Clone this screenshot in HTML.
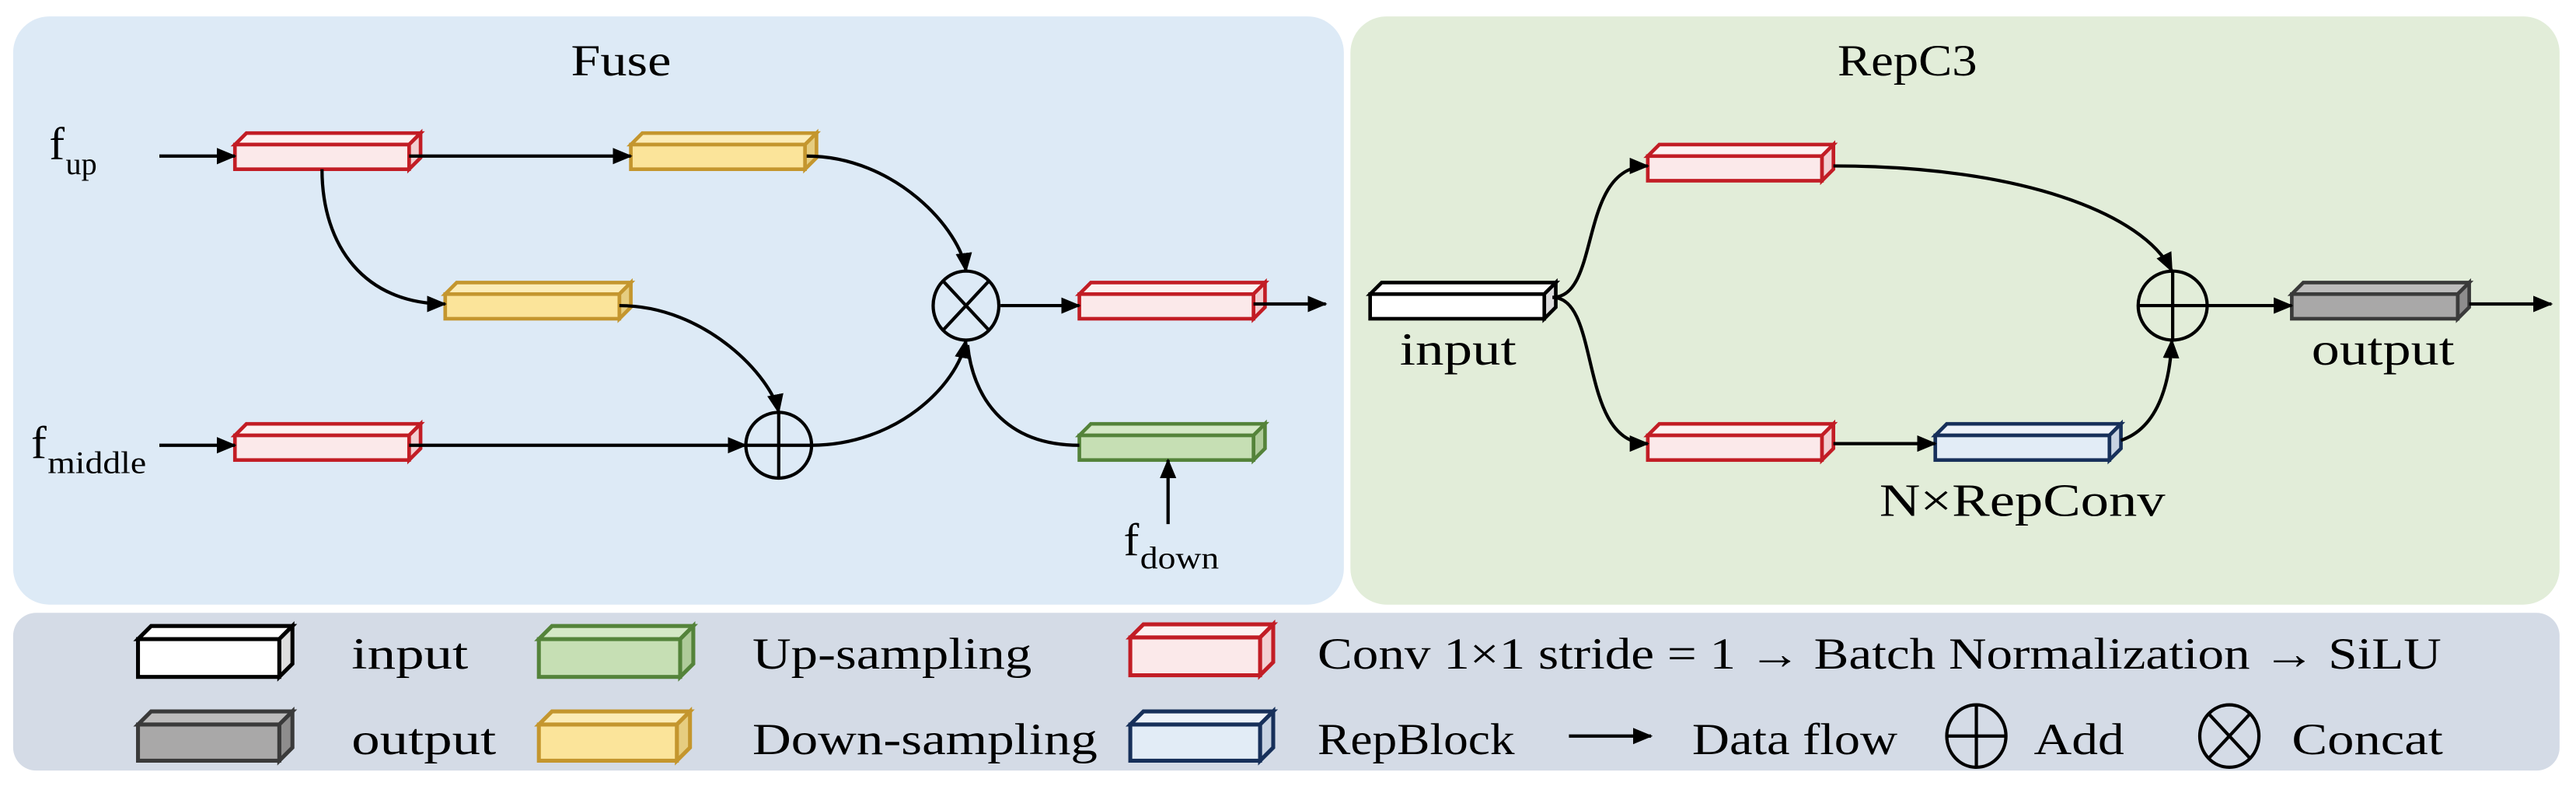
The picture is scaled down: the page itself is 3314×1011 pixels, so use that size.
<!DOCTYPE html>
<html><head><meta charset="utf-8"><style>
html,body{margin:0;padding:0;background:#fff;}
svg{display:block;}
text{font-family:"Liberation Serif",serif;fill:#000;}
</style></head><body>
<svg width="3314" height="1011" viewBox="0 0 1568 478.4" preserveAspectRatio="none" xmlns="http://www.w3.org/2000/svg">
<defs>
<marker id="ah" markerWidth="12" markerHeight="10" refX="11" refY="5" orient="auto" markerUnits="userSpaceOnUse">
<path d="M0,0 L12,5 L0,10 Z" fill="#000"/></marker>
</defs>
<rect x="8" y="10" width="810" height="358" rx="22" fill="#ddeaf6"/>
<rect x="822" y="10" width="736" height="358" rx="22" fill="#e2edd9"/>
<rect x="8" y="373" width="1550" height="96" rx="14" fill="#d4dbe6"/>

<text x="378" y="46" font-size="27" text-anchor="middle" textLength="61" lengthAdjust="spacingAndGlyphs">Fuse</text>
<text x="1161" y="46" font-size="27" text-anchor="middle" textLength="85" lengthAdjust="spacingAndGlyphs">RepC3</text>

<g stroke-width="2.2" stroke-linejoin="miter">
<g fill="#fbe9ea" stroke="#c21d25">
<g transform="translate(143,81)"><polygon points="0,7 7,0 113,0 106,7" fill="#fdf1f1"/><polygon points="106,7 113,0 113,15 106,22" fill="#f3cfd1"/><rect x="0" y="7" width="106" height="15"/></g>
<g transform="translate(143,258)"><polygon points="0,7 7,0 113,0 106,7" fill="#fdf1f1"/><polygon points="106,7 113,0 113,15 106,22" fill="#f3cfd1"/><rect x="0" y="7" width="106" height="15"/></g>
<g transform="translate(657,172)"><polygon points="0,7 7,0 113,0 106,7" fill="#fdf1f1"/><polygon points="106,7 113,0 113,15 106,22" fill="#f3cfd1"/><rect x="0" y="7" width="106" height="15"/></g>
<g transform="translate(1003,88)"><polygon points="0,7 7,0 113,0 106,7" fill="#fdf1f1"/><polygon points="106,7 113,0 113,15 106,22" fill="#f3cfd1"/><rect x="0" y="7" width="106" height="15"/></g>
<g transform="translate(1003,258)"><polygon points="0,7 7,0 113,0 106,7" fill="#fdf1f1"/><polygon points="106,7 113,0 113,15 106,22" fill="#f3cfd1"/><rect x="0" y="7" width="106" height="15"/></g>
</g>
<g fill="#fbe49a" stroke="#c4962e">
<g transform="translate(384,81)"><polygon points="0,7 7,0 113,0 106,7" fill="#fcecb6"/><polygon points="106,7 113,0 113,15 106,22" fill="#e6cd80"/><rect x="0" y="7" width="106" height="15"/></g>
<g transform="translate(271,172)"><polygon points="0,7 7,0 113,0 106,7" fill="#fcecb6"/><polygon points="106,7 113,0 113,15 106,22" fill="#e6cd80"/><rect x="0" y="7" width="106" height="15"/></g>
</g>
<g fill="#c6dfb4" stroke="#54833a" transform="translate(657,258)"><polygon points="0,7 7,0 113,0 106,7" fill="#d4e8c6"/><polygon points="106,7 113,0 113,15 106,22" fill="#afcb9a"/><rect x="0" y="7" width="106" height="15"/></g>
<g fill="#ffffff" stroke="#000" transform="translate(834,172)"><polygon points="0,7 7,0 113,0 106,7"/><polygon points="106,7 113,0 113,15 106,22" fill="#ddd"/><rect x="0" y="7" width="106" height="15"/></g>
<g fill="#e2ecf6" stroke="#17305a" transform="translate(1178,258)"><polygon points="0,7 7,0 113,0 106,7" fill="#edf2f9"/><polygon points="106,7 113,0 113,15 106,22" fill="#c8d3e2"/><rect x="0" y="7" width="106" height="15"/></g>
<g fill="#a9a8a8" stroke="#3a3a3a" transform="translate(1395,172)"><polygon points="0,7 7,0 108,0 101,7" fill="#bdbcbc"/><polygon points="101,7 108,0 108,15 101,22" fill="#8e8d8d"/><rect x="0" y="7" width="101" height="15"/></g>
</g>

<g fill="none" stroke="#000" stroke-width="2">
<path d="M97 95 L143 95" marker-end="url(#ah)"/>
<path d="M249 95 L384 95" marker-end="url(#ah)"/>
<path d="M196 103 C 196 150, 222 185, 271 185" marker-end="url(#ah)"/>
<path d="M491 95 C 545 95, 585 140, 588 165" marker-end="url(#ah)"/>
<path d="M377 186 C 430 186, 470 230, 474 251" marker-end="url(#ah)"/>
<path d="M97 271 L143 271" marker-end="url(#ah)"/>
<path d="M249 271 L454 271" marker-end="url(#ah)"/>
<path d="M494 271 C 545 271, 583 235, 588 207" marker-end="url(#ah)"/>
<path d="M657 271 C 610 271, 592 240, 589 210"/>
<path d="M609 186 L657 186" marker-end="url(#ah)"/>
<path d="M763 185 L807 185" marker-end="url(#ah)"/>
<path d="M711 319 L711 280" marker-end="url(#ah)"/>
<path d="M945 181 C 975 181, 960 101, 1003 101" marker-end="url(#ah)"/>
<path d="M945 181 C 975 181, 960 270, 1003 270" marker-end="url(#ah)"/>
<path d="M1116 101 C 1230 101, 1305 130, 1322 165" marker-end="url(#ah)"/>
<path d="M1116 270 L1178 270" marker-end="url(#ah)"/>
<path d="M1291 268 C 1315 260, 1321 230, 1322 207" marker-end="url(#ah)"/>
<path d="M1343 186 L1395 186" marker-end="url(#ah)"/>
<path d="M1503 185 L1553 185" marker-end="url(#ah)"/>
</g>
<g fill="none" stroke="#000" stroke-width="2">
<ellipse cx="588" cy="186" rx="20" ry="21"/><path d="M574 171 L602 201 M602 171 L574 201"/>
<ellipse cx="474" cy="271" rx="20" ry="20"/><path d="M454 271 L494 271 M474 251 L474 291"/>
<ellipse cx="1322.5" cy="186" rx="21" ry="21"/><path d="M1301.5 186 L1343.5 186 M1322.5 165 L1322.5 207"/>
</g>

<text x="30" y="97" font-size="28">f</text><text x="40" y="106" font-size="19">up</text>
<text x="19" y="279" font-size="28">f</text><text x="29" y="288" font-size="19" textLength="60" lengthAdjust="spacingAndGlyphs">middle</text>
<text x="684" y="338" font-size="28">f</text><text x="694" y="346" font-size="19" textLength="48" lengthAdjust="spacingAndGlyphs">down</text>
<text x="852" y="222" font-size="28" textLength="71" lengthAdjust="spacingAndGlyphs">input</text>
<text x="1407" y="222" font-size="28" textLength="87" lengthAdjust="spacingAndGlyphs">output</text>
<text x="1144" y="314" font-size="28" textLength="174" lengthAdjust="spacingAndGlyphs">N×RepConv</text>

<g stroke-width="2.4">
<g transform="translate(84,381)" fill="#fff" stroke="#000"><polygon points="0,8 8,0 94,0 86,8"/><polygon points="86,8 94,0 94,23 86,31" fill="#ddd"/><rect x="0" y="8" width="86" height="23"/></g>
<g transform="translate(328,381)" fill="#c6dfb4" stroke="#54833a"><polygon points="0,8 8,0 94,0 86,8" fill="#d4e8c6"/><polygon points="86,8 94,0 94,23 86,31" fill="#afcb9a"/><rect x="0" y="8" width="86" height="23"/></g>
<g transform="translate(688,380)" fill="#fbe9ea" stroke="#c21d25"><polygon points="0,8 8,0 87,0 79,8" fill="#fdf1f1"/><polygon points="79,8 87,0 87,23 79,31" fill="#f3cfd1"/><rect x="0" y="8" width="79" height="23"/></g>
<g transform="translate(84,433)" fill="#a9a8a8" stroke="#3a3a3a"><polygon points="0,8 8,0 94,0 86,8" fill="#bdbcbc"/><polygon points="86,8 94,0 94,22 86,30" fill="#8e8d8d"/><rect x="0" y="8" width="86" height="22"/></g>
<g transform="translate(328,433)" fill="#fbe49a" stroke="#c4962e"><polygon points="0,8 8,0 92,0 84,8" fill="#fcecb6"/><polygon points="84,8 92,0 92,22 84,30" fill="#e6cd80"/><rect x="0" y="8" width="84" height="22"/></g>
<g transform="translate(688,433)" fill="#e2ecf6" stroke="#17305a"><polygon points="0,8 8,0 87,0 79,8" fill="#edf2f9"/><polygon points="79,8 87,0 87,22 79,30" fill="#c8d3e2"/><rect x="0" y="8" width="79" height="22"/></g>
</g>
<g font-size="27">
<text x="214" y="407" textLength="71" lengthAdjust="spacingAndGlyphs">input</text>
<text x="458" y="407" textLength="170" lengthAdjust="spacingAndGlyphs">Up-sampling</text>
<text x="802" y="407" textLength="684" lengthAdjust="spacingAndGlyphs">Conv 1×1 stride = 1 → Batch Normalization → SiLU</text>
<text x="214" y="459" textLength="88" lengthAdjust="spacingAndGlyphs">output</text>
<text x="458" y="459" textLength="210" lengthAdjust="spacingAndGlyphs">Down-sampling</text>
<text x="802" y="459" textLength="120" lengthAdjust="spacingAndGlyphs">RepBlock</text>
<text x="1030" y="459" textLength="125" lengthAdjust="spacingAndGlyphs">Data flow</text>
<text x="1238" y="459" textLength="55" lengthAdjust="spacingAndGlyphs">Add</text>
<text x="1395" y="459" textLength="92" lengthAdjust="spacingAndGlyphs">Concat</text>
</g>
<path d="M955 448 L1005 448" stroke="#000" stroke-width="2" marker-end="url(#ah)"/>
<g fill="none" stroke="#000" stroke-width="2">
<ellipse cx="1203" cy="448" rx="18" ry="19"/><path d="M1185 448 L1221 448 M1203 429 L1203 467"/>
<ellipse cx="1357" cy="448" rx="18" ry="19"/><path d="M1344 434 L1370 462 M1370 434 L1344 462"/>
</g>
</svg>
</body></html>
